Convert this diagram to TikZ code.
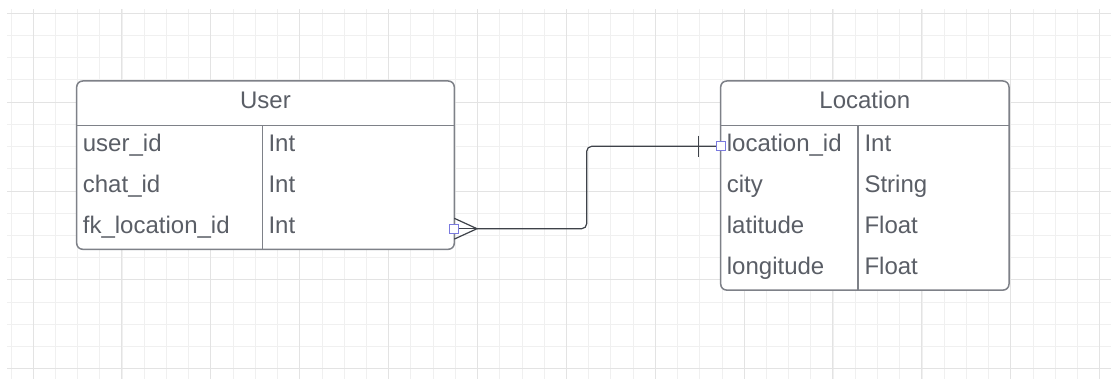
\documentclass[tikz,border=0pt]{standalone}
\usepackage{fontspec}
\setmainfont{Liberation Sans}

\definecolor{gridminor}{HTML}{F0F0F0}
\definecolor{gridmajor}{HTML}{E3E3E3}
\definecolor{tableframe}{HTML}{7E8188}
\definecolor{tableink}{HTML}{5A5E66}
\definecolor{wire}{HTML}{3E4249}
\definecolor{handle}{HTML}{7A7ADF}

\tikzset{
  frame/.style={draw=tableframe, line width=1.5pt},
  title/.style={anchor=base, text=tableink, inner sep=0pt, font=\fontsize{24}{28}\selectfont},
  field/.style={anchor=base west, text=tableink, inner sep=0pt, font=\fontsize{24}{28}\selectfont},
  relation/.style={draw=wire, line width=1.2pt},
  handle/.style={draw=handle, fill=white, line width=1pt, minimum size=9pt, inner sep=0pt},
}

\begin{document}
\begin{tikzpicture}[x=1pt,y=-1pt]
\useasboundingbox (0,0) rectangle (1111,379);
\fill[white] (0,0) rectangle (1111,379);

% background grid
\draw[gridminor, line width=1pt, step=22.22pt, shift={(11,13.3)}] (-4,-4) grid (1100,366);
\draw[gridmajor, line width=1pt, step=88.88pt, shift={(33,13.3)}] (-26,-4) grid (1078,366);

% table User
\draw[frame, fill=white, rounded corners=6pt] (76.7,81) rectangle (454.3,249.3);
\draw[frame] (76.7,125.7) -- (454.3,125.7);
\draw[frame] (262.3,125.7) -- (262.3,249.3);
\node[title] (user) at (265.5,108.5) {User};
\foreach \name/\type [count=\i] in {user\_id/Int, chat\_id/Int, fk\_location\_id/Int} {
  \node[field] (user-\i) at (82.7,{125.7+41.1*\i-15.4}) {\name};
  \node[field] (user-type-\i) at (268.3,{125.7+41.1*\i-15.4}) {\type};
}

% table Location
\draw[frame, fill=white, rounded corners=6pt] (720.7,81) rectangle (1009,290.1);
\draw[frame] (720.7,125.7) -- (1009,125.7);
\draw[frame] (858,125.7) -- (858,290.1);
\node[title] (location) at (864.8,108.8) {Location};
\foreach \name/\type [count=\i] in {location\_id/Int, city/String, latitude/Float, longitude/Float} {
  \node[field] (loc-\i) at (726.7,{125.7+41.1*\i-15.4}) {\name};
  \node[field] (loc-type-\i) at (864.3,{125.7+41.1*\i-15.4}) {\type};
}

% relation: many users -- one location
\coordinate (user fk) at (454.3,228.7);
\coordinate (loc pk) at (720.7,146.3);
\draw[relation, rounded corners=5pt] ([xshift=22.7pt]user fk) -- ++(109.7,0) |- (loc pk);
% crow's foot
\draw[relation] ([yshift=10.4pt]user fk) -- ([xshift=22.7pt]user fk) -- ([yshift=-10.4pt]user fk);
\draw[relation] (user fk) -- ([xshift=22.7pt]user fk);
% one bar
\draw[relation] ([xshift=-22.4pt,yshift=10.6pt]loc pk) -- ([xshift=-22.4pt,yshift=-10.6pt]loc pk);

% end point handles
\node[handle] (fk handle) at (user fk) {};
\node[handle] (pk handle) at (loc pk) {};
\end{tikzpicture}
\end{document}
